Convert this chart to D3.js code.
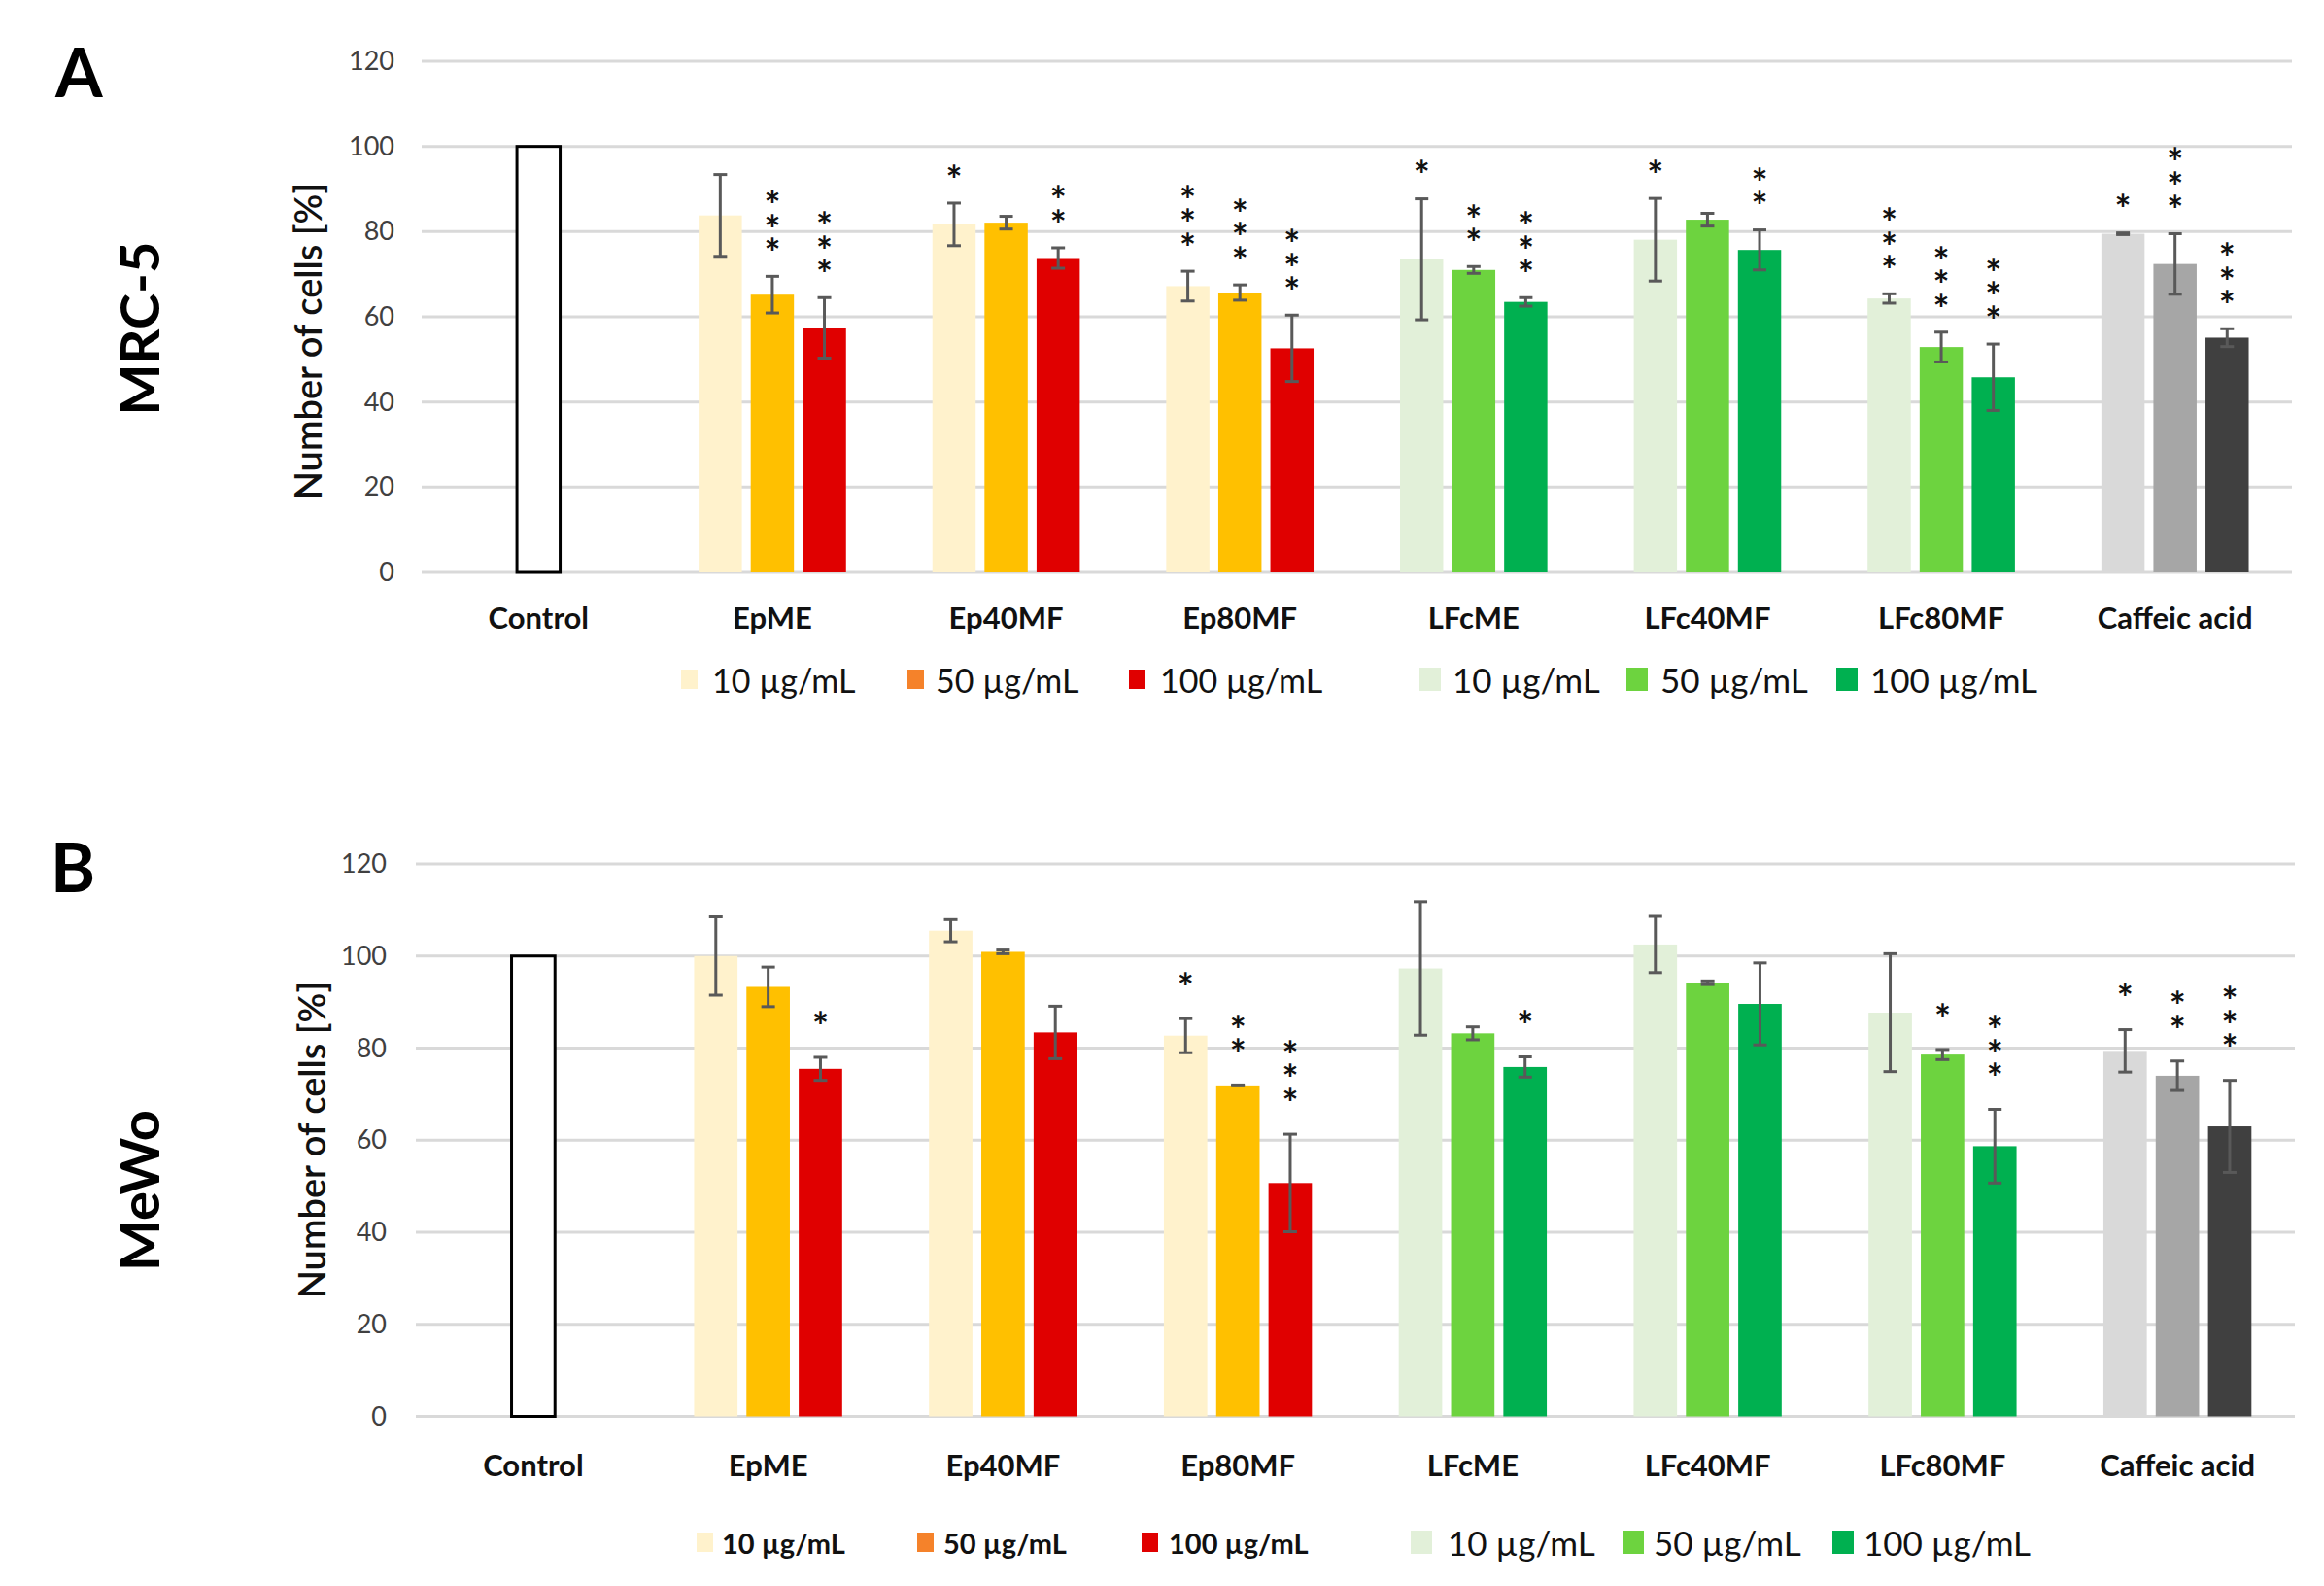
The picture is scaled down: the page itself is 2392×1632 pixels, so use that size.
<!DOCTYPE html>
<html>
<head>
<meta charset="utf-8">
<script src="https://cdn.jsdelivr.net/npm/d3@7"></script>
<style>
  body { margin: 0; background: #fff; }
  svg { display: block; }
  text { font-family: Lato, "Open Sans", sans-serif; }
</style>
</head>
<body>
<script>
const categories = ["Control", "EpME", "Ep40MF", "Ep80MF", "LFcME", "LFc40MF", "LFc80MF", "Caffeic acid"];
const doseLabels = ["10 µg/mL", "50 µg/mL", "100 µg/mL"];
const yTicks = [0, 20, 40, 60, 80, 100, 120];

// MRC-5 (panel A) - control sits in the middle slot
const mrc5Dose10  = [null, 83.8, 81.7, 67.2, 73.5, 78.1, 64.3, 79.5];
const mrc5Dose50  = [100,  65.2, 82.1, 65.7, 71.0, 82.8, 52.9, 72.4];
const mrc5Dose100 = [null, 57.4, 73.8, 52.6, 63.5, 75.7, 45.8, 55.1];
const mrc5Err10   = [null, 9.6, 5.0, 3.5, 14.2, 9.7, 1.1, 0.2];
const mrc5Err50   = [null, 4.3, 1.5, 1.8, 0.8, 1.5, 3.5, 7.1];
const mrc5Err100  = [null, 7.1, 2.4, 7.8, 1.0, 4.7, 7.8, 2.1];
const mrc5Stars10  = [0, 0, 1, 3, 1, 1, 3, 1];
const mrc5Stars50  = [0, 3, 0, 3, 2, 0, 3, 3];
const mrc5Stars100 = [0, 3, 2, 3, 3, 2, 3, 3];

// MeWo (panel B)
const mewoDose10  = [null, 100.0, 105.5, 82.7, 97.3, 102.5, 87.7, 79.4];
const mewoDose50  = [100,  93.3, 100.9, 71.9, 83.2, 94.2, 78.6, 74.0];
const mewoDose100 = [null, 75.5, 83.4, 50.7, 75.9, 89.6, 58.7, 63.0];
const mewoErr10   = [null, 8.5, 2.4, 3.7, 14.5, 6.1, 12.8, 4.6];
const mewoErr50   = [null, 4.3, 0.4, 0.1, 1.4, 0.4, 1.1, 3.2];
const mewoErr100  = [null, 2.5, 5.7, 10.6, 2.2, 8.9, 8.0, 10.0];
const mewoStars10  = [0, 0, 0, 1, 0, 0, 0, 1];
const mewoStars50  = [0, 0, 0, 2, 0, 0, 1, 2];
const mewoStars100 = [0, 1, 0, 3, 1, 0, 3, 3];

const epColors = ["#fff2cc", "#ffc000", "#e00000"];
const lfcColors = ["#e2f0d9", "#6dd33f", "#00b050"];
const caffeicColors = ["#d9d9d9", "#a6a6a6", "#404040"];
const epLegendColors = ["#fff2cc", "#f5822a", "#e00000"];

function barColor(cat, j) {
    if (cat === "Control") return "#ffffff";
    if (cat.startsWith("Ep")) return epColors[j];
    if (cat.startsWith("LFc")) return lfcColors[j];
    return caffeicColors[j];
}

const svg = d3.select("body").append("svg")
    .attr("width", 2392)
    .attr("height", 1632);

const starSize = 40;
const starStep = 24.5;

function drawPanel(p) {
    const x = d3.scaleBand().domain(categories).range([p.left, p.right]);
    const x1 = d3.scaleBand().domain([0, 1, 2])
        .range([0, x.bandwidth()])
        .paddingInner(0.17)
        .paddingOuter(0.83);
    const y = d3.scaleLinear().domain([0, 120]).range([p.bottom, p.top]);

    const g = svg.append("g");

    // gridlines
    g.selectAll(".grid")
        .data(yTicks)
        .join("line")
        .attr("class", "grid")
        .attr("x1", p.left)
        .attr("x2", p.right)
        .attr("y1", d => y(d))
        .attr("y2", d => y(d))
        .attr("stroke", "#d9d9d9")
        .attr("stroke-width", 3);

    // y tick labels
    const yAxis = g.append("g")
        .attr("transform", `translate(${p.tickX},0)`)
        .call(d3.axisLeft(y).tickValues(yTicks).tickSize(0).tickPadding(0));
    yAxis.select(".domain").remove();
    yAxis.selectAll("text")
        .attr("font-family", "Lato, sans-serif")
        .attr("font-size", 27)
        .attr("fill", "#404040");

    // category labels
    const xAxis = g.append("g")
        .attr("transform", `translate(0,${p.labelY})`)
        .call(d3.axisBottom(x).tickSize(0).tickPadding(0));
    xAxis.select(".domain").remove();
    xAxis.selectAll("text")
        .attr("dy", "0.35em")
        .attr("font-family", "Lato, sans-serif")
        .attr("font-size", 31)
        .attr("font-weight", "bold")
        .attr("fill", "#111");

    // flatten bars
    const bars = [];
    categories.forEach((cat, i) => {
        p.values.forEach((series, j) => {
            if (series[i] == null) return;
            bars.push({
                cat, j,
                value: series[i],
                err: p.errs[j][i],
                stars: p.stars[j][i]
            });
        });
    });

    g.selectAll(".bar")
        .data(bars)
        .join("rect")
        .attr("class", "bar")
        .attr("x", d => x(d.cat) + x1(d.j))
        .attr("y", d => y(d.value))
        .attr("width", x1.bandwidth())
        .attr("height", d => y(0) - y(d.value))
        .attr("fill", d => barColor(d.cat, d.j))
        .attr("stroke", d => d.cat === "Control" ? "#000" : "none")
        .attr("stroke-width", 3);

    // error bars
    const withErr = bars.filter(d => d.err != null);
    const cx = d => x(d.cat) + x1(d.j) + x1.bandwidth() / 2;
    const eb = g.selectAll(".err")
        .data(withErr)
        .join("g")
        .attr("class", "err")
        .attr("stroke", "#595959")
        .attr("stroke-width", 3);
    eb.append("line")
        .attr("x1", cx).attr("x2", cx)
        .attr("y1", d => y(d.value - d.err))
        .attr("y2", d => y(d.value + d.err));
    eb.append("line")
        .attr("x1", d => cx(d) - 7).attr("x2", d => cx(d) + 7)
        .attr("y1", d => y(d.value + d.err))
        .attr("y2", d => y(d.value + d.err));
    eb.append("line")
        .attr("x1", d => cx(d) - 7).attr("x2", d => cx(d) + 7)
        .attr("y1", d => y(d.value - d.err))
        .attr("y2", d => y(d.value - d.err));

    // significance stars, one text per stack
    const stacks = g.selectAll(".stars")
        .data(bars.filter(d => d.stars > 0))
        .join("text")
        .attr("class", "stars")
        .attr("text-anchor", "middle")
        .attr("font-size", starSize)
        .attr("font-weight", "bold")
        .attr("fill", "#111");
    stacks.selectAll("tspan")
        .data(d => d3.range(d.stars).map(k => ({ d, k })))
        .join("tspan")
        .attr("x", s => cx(s.d))
        .attr("y", s => y(s.d.value + (s.d.err || 0)) - p.starGap - s.k * starStep + starSize * 0.57)
        .text("*");

    // panel letter
    svg.append("text")
        .attr("x", p.letterX)
        .attr("y", p.letterY)
        .attr("font-size", 70)
        .attr("font-weight", "bold")
        .attr("fill", "#000")
        .text(p.letter);

    // cell line label
    svg.append("text")
        .attr("transform", `translate(${p.cellX},${p.cellY}) rotate(-90)`)
        .attr("text-anchor", "middle")
        .attr("dominant-baseline", "central")
        .attr("font-size", 56)
        .attr("font-weight", "bold")
        .attr("fill", "#000")
        .text(p.cellLine);

    // y title
    svg.append("text")
        .attr("transform", `translate(${p.titleX},${p.titleY}) rotate(-90)`)
        .attr("text-anchor", "middle")
        .attr("dominant-baseline", "central")
        .attr("font-size", 38)
        .attr("font-weight", 600)
        .attr("fill", "#111")
        .text("Number of cells [%]");

    // legends
    const legendItems = doseLabels.map((lab, j) => ({
        lab, color: epLegendColors[j], sx: p.legendSwatch[j], tx: p.legendText[j],
        bold: p.epLegendBold, size: p.epLegendSize, sw: 17, sh: 20
    })).concat(doseLabels.map((lab, j) => ({
        lab, color: lfcColors[j], sx: p.legendSwatch[j + 3], tx: p.legendText[j + 3],
        bold: false, size: 35, sw: 22, sh: 24
    })));

    const lg = svg.append("g");
    lg.selectAll("rect")
        .data(legendItems)
        .join("rect")
        .attr("x", d => d.sx)
        .attr("y", d => p.legendY - d.sh / 2)
        .attr("width", d => d.sw)
        .attr("height", d => d.sh)
        .attr("fill", d => d.color);
    lg.selectAll("text")
        .data(legendItems)
        .join("text")
        .attr("x", d => d.tx)
        .attr("y", p.legendY)
        .attr("dominant-baseline", "central")
        .attr("font-size", d => d.size)
        .attr("font-weight", d => d.bold ? "bold" : "normal")
        .attr("fill", "#111")
        .text(d => d.lab);
}

drawPanel({
    letter: "A", letterX: 57, letterY: 100,
    cellLine: "MRC-5", cellX: 142, cellY: 338,
    titleX: 316, titleY: 351,
    left: 434, right: 2359, top: 63, bottom: 589,
    tickX: 406, labelY: 636, starGap: 32,
    values: [mrc5Dose10, mrc5Dose50, mrc5Dose100],
    errs: [mrc5Err10, mrc5Err50, mrc5Err100],
    stars: [mrc5Stars10, mrc5Stars50, mrc5Stars100],
    legendY: 699,
    legendSwatch: [701, 934, 1162, 1461, 1674, 1890],
    legendText: [733, 963, 1194, 1495, 1709, 1925],
    epLegendBold: false, epLegendSize: 34
});

drawPanel({
    letter: "B", letterX: 52, letterY: 918,
    cellLine: "MeWo", cellX: 142, cellY: 1225,
    titleX: 320, titleY: 1173,
    left: 428, right: 2362, top: 889, bottom: 1457.5,
    tickX: 398, labelY: 1508, starGap: 40,
    values: [mewoDose10, mewoDose50, mewoDose100],
    errs: [mewoErr10, mewoErr50, mewoErr100],
    stars: [mewoStars10, mewoStars50, mewoStars100],
    legendY: 1587,
    legendSwatch: [717, 944, 1175, 1452, 1670, 1886],
    legendText: [743, 971, 1203, 1490, 1702, 1918],
    epLegendBold: true, epLegendSize: 29
});
</script>
</body>
</html>
